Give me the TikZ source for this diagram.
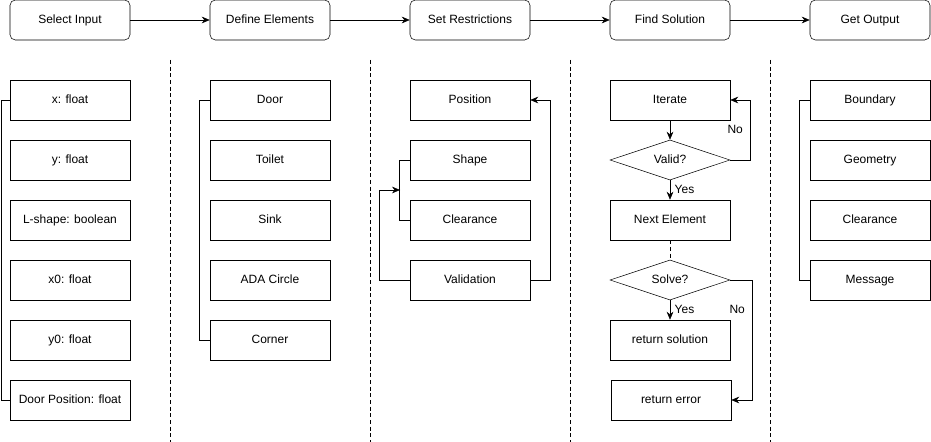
\documentclass[tikz,border=0pt]{standalone}
\usepackage{fontspec}
\setmainfont{Liberation Sans}
\usetikzlibrary{arrows.meta,shapes.geometric}

\begin{document}
\begin{tikzpicture}[x=0.75pt,y=-0.75pt,font=\fontsize{9}{10}\selectfont,
  every node/.style={text height=7pt,text depth=2pt},
  stage/.style={draw,rounded corners=4pt,minimum width=90pt,minimum height=30pt,inner sep=0pt},
  item/.style={draw,minimum width=90pt,minimum height=30pt,inner sep=0pt},
  test/.style={draw,diamond,aspect=3,minimum width=90pt,minimum height=30pt,inner sep=0pt},
  arr/.style={-{Stealth[length=6pt,width=5pt]}}]
\useasboundingbox (0,0) rectangle (931,442);

% stages
\node[stage] (input) at (70,20) {Select Input};
\node[stage] (define) at (270,20) {Define Elements};
\node[stage] (restrict) at (470,20) {Set Restrictions};
\node[stage] (find) at (670,20) {Find Solution};
\node[stage] (output) at (870,20) {Get Output};
\draw[arr] (input) -- (define);
\draw[arr] (define) -- (restrict);
\draw[arr] (restrict) -- (find);
\draw[arr] (find) -- (output);

% separators
\foreach \x in {170,370,570,770}
  \draw[densely dashed] (\x,60) -- (\x,442);

% inputs
\node[item] (x) at (70,100) {x: float};
\node[item] (y) at (70,160) {y: float};
\node[item] (lshape) at (70,220) {L-shape: boolean};
\node[item] (xz) at (70,280) {x0: float};
\node[item] (yz) at (70,340) {y0: float};
\node[item] (door) at (70,400) {Door Position: float};
\draw (x.west) -- ++(-8,0) |- (door.west);

% elements
\node[item] (edoor) at (270,100) {Door};
\node[item] (toilet) at (270,160) {Toilet};
\node[item] (sink) at (270,220) {Sink};
\node[item] (ada) at (270,280) {ADA Circle};
\node[item] (corner) at (270,340) {Corner};
\draw (edoor.west) -- ++(-10,0) |- (corner.west);

% restrictions
\node[item] (position) at (470,100) {Position};
\node[item] (shape) at (470,160) {Shape};
\node[item] (clear) at (470,220) {Clearance};
\node[item] (valid) at (470,280) {Validation};
\draw (shape.west) -- ++(-10,0) |- (clear.west);
\coordinate (join) at (400,190);
\draw[arr] (valid.west) -- ++(-30,0) |- (join);
\draw[arr] (valid.east) -- ++(20,0) |- (position.east);

% solution
\node[item] (iter) at (670,100) {Iterate};
\node[test] (isvalid) at (670,160) {Valid?};
\node[item] (next) at (670,220) {Next Element};
\node[test] (solve) at (670,280) {Solve?};
\node[item] (sol) at (670,340) {return solution};
\node[item] (err) at (671,400) {return error};
\draw[arr] (iter) -- (isvalid);
\draw[arr] (isvalid) -- node[right,pos=0.5] {Yes} (next);
\draw[arr] (isvalid.east) -- ++(20,0) |- node[pos=0.25,left,xshift=-2pt] {No} (iter.east);
\draw[densely dashed] (next) -- (solve);
\draw[arr] (solve) -- node[right,pos=0.5] {Yes} (sol);
\draw[arr] (solve.east) -- ++(22,0) |- node[pos=0.125,left,xshift=-2pt] {No} (err.east);

% output
\node[item] (bound) at (870,100) {Boundary};
\node[item] (geom) at (870,160) {Geometry};
\node[item] (oclear) at (870,220) {Clearance};
\node[item] (msg) at (870,280) {Message};
\draw (bound.west) -- ++(-10,0) |- (msg.west);
\end{tikzpicture}
\end{document}
